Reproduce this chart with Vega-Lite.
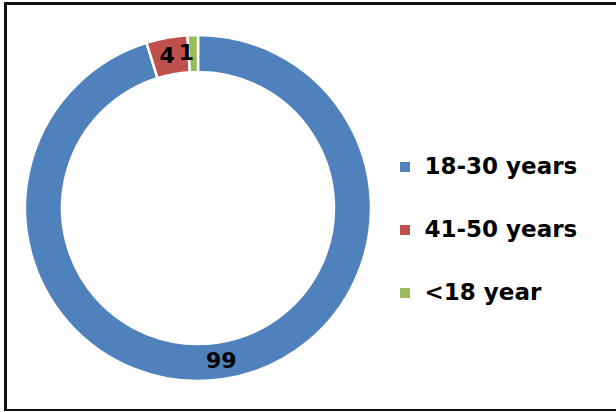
{
  "$schema": "https://vega.github.io/schema/vega-lite/v6.json",
  "width": 625,
  "height": 407,
  "autosize": {"type": "none"},
  "padding": {"left": 5.5, "top": 3.5, "right": 0, "bottom": 0},
  "background": "white",
  "config": {
    "view": {"stroke": null},
    "font": "DejaVu Sans"
  },
  "datasets": {
    "ages": [
      {"group": "18-30 years", "value": 99},
      {"group": "41-50 years", "value": 4},
      {"group": "<18 year", "value": 1}
    ],
    "frame": [{"name": "frame"}]
  },
  "layer": [
    {
      "data": {"name": "frame"},
      "mark": {"type": "rect", "fill": null, "stroke": "#111111", "strokeWidth": 3},
      "encoding": {}
    },
    {
      "data": {"name": "ages"},
      "mark": {
        "type": "arc",
        "innerRadius": 136,
        "outerRadius": 173,
        "stroke": "white",
        "strokeWidth": 2.5,
        "x": {"expr": "width * 0.308"},
        "y": {"expr": "height / 2 + 1"}
      },
      "encoding": {
        "theta": {"field": "value", "type": "quantitative", "stack": true},
        "order": {"field": "value", "type": "quantitative", "sort": "descending"},
        "color": {
          "field": "group",
          "type": "nominal",
          "scale": {
            "domain": ["18-30 years", "41-50 years", "<18 year"],
            "range": ["#4F81BD", "#C0504D", "#9BBB59"]
          },
          "legend": {
            "title": null,
            "orient": "none",
            "legendX": 388,
            "legendY": 152,
            "symbolType": "square",
            "symbolSize": 100,
            "symbolStrokeWidth": 0,
            "labelFont": "DejaVu Sans",
            "labelFontWeight": "bold",
            "labelFontSize": 23,
            "labelColor": "#000000",
            "labelOffset": 8,
            "rowPadding": 39,
            "labelLimit": 300
          }
        }
      }
    },
    {
      "data": {"name": "ages"},
      "mark": {
        "type": "text",
        "radius": 155,
        "font": "DejaVu Sans",
        "fontWeight": "bold",
        "fontSize": 22,
        "fill": "#000000",
        "baseline": "middle",
        "align": "center",
        "dx": {"expr": "datum.value == 1 ? -7 : (datum.value == 4 ? -3 : 0)"},
        "x": {"expr": "width * 0.308"},
        "y": {"expr": "height / 2 + 1"}
      },
      "encoding": {
        "theta": {"field": "value", "type": "quantitative", "stack": true},
        "order": {"field": "value", "type": "quantitative", "sort": "descending"},
        "text": {"field": "value", "type": "quantitative"}
      }
    }
  ]
}
